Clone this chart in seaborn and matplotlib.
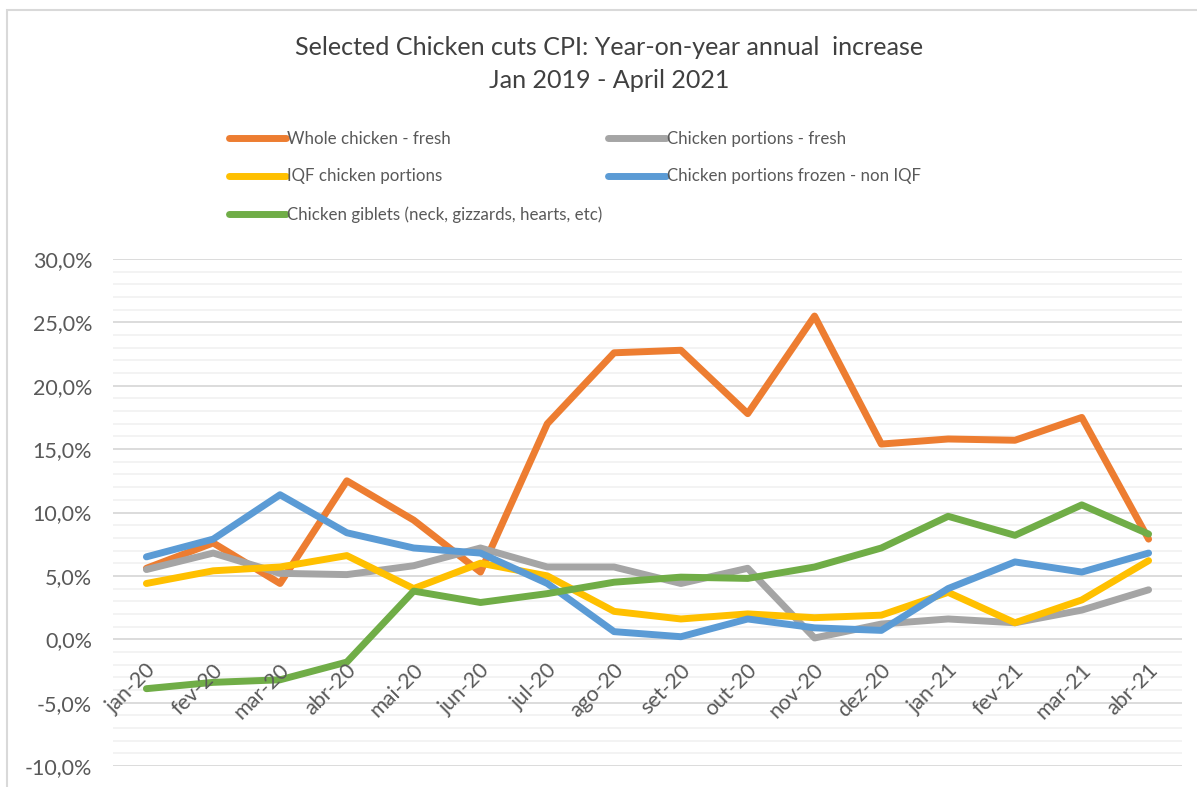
import matplotlib
matplotlib.use("Agg")
import matplotlib.pyplot as plt
import matplotlib.patches as mpatches
from matplotlib.ticker import MultipleLocator, FuncFormatter
from matplotlib.transforms import ScaledTranslation
import pandas as pd
import seaborn as sns

# Monthly year-on-year CPI change (%) per chicken cut
months = ["jan-20", "fev-20", "mar-20", "abr-20", "mai-20", "jun-20",
          "jul-20", "ago-20", "set-20", "out-20", "nov-20", "dez-20",
          "jan-21", "fev-21", "mar-21", "abr-21"]

whole_fresh = [5.6, 7.6, 4.4, 12.5, 9.4, 5.3, 17.0, 22.6,
               22.8, 17.8, 25.5, 15.4, 15.8, 15.7, 17.5, 7.9]
portions_fresh = [5.5, 6.8, 5.2, 5.1, 5.8, 7.2, 5.7, 5.7,
                  4.4, 5.6, 0.1, 1.2, 1.6, 1.3, 2.3, 3.9]
iqf_portions = [4.4, 5.4, 5.7, 6.6, 4.0, 6.0, 5.0, 2.2,
                1.6, 2.0, 1.7, 1.9, 3.7, 1.3, 3.1, 6.2]
frozen_non_iqf = [6.5, 7.9, 11.4, 8.4, 7.2, 6.8, 4.4, 0.6,
                  0.2, 1.6, 0.9, 0.7, 4.0, 6.1, 5.3, 6.8]
giblets = [-3.9, -3.4, -3.2, -1.8, 3.8, 2.9, 3.6, 4.5,
           4.9, 4.8, 5.7, 7.2, 9.7, 8.2, 10.6, 8.3]

series_names = ["Whole chicken - fresh",
                "Chicken portions - fresh",
                "IQF chicken portions",
                "Chicken portions frozen - non IQF",
                "Chicken giblets (neck, gizzards, hearts, etc)"]
series_values = [whole_fresh, portions_fresh, iqf_portions, frozen_non_iqf, giblets]
series_colors = ["#ED7D31", "#A5A5A5", "#FFC000", "#5B9BD5", "#70AD47"]

title_text = "Selected Chicken cuts CPI: Year-on-year annual  increase\nJan 2019 - April 2021"

frames = []
for name, vals in zip(series_names, series_values):
    frames.append(pd.DataFrame({"month": months, "value": vals, "series": name}))
df = pd.concat(frames, ignore_index=True)

sns.set_theme(style="white")
plt.rcParams["font.family"] = ["Lato", "DejaVu Sans"]

W, H = 1197, 787
fig = plt.figure(figsize=(W / 100, H / 100), dpi=100)
fig.patch.set_facecolor("white")

# Chart border (cut off at right and bottom)
fig.add_artist(mpatches.Rectangle((7 / W, -0.05), 1.2, 1 - 10 / H + 0.05,
                                  transform=fig.transFigure, fill=False,
                                  edgecolor="#D9D9D9", linewidth=1.5))

left, right, top, bottom = 113, 1182, 259, 766
ax = fig.add_axes([left / W, (H - bottom) / H, (right - left) / W, (bottom - top) / H])

sns.lineplot(data=df, x="month", y="value", hue="series", hue_order=series_names,
             palette=series_colors, sort=False, linewidth=5,
             ax=ax, legend=True)
for line in ax.get_lines():
    line.set_solid_capstyle("round")
    line.set_solid_joinstyle("round")

ax.set_ylim(-10, 30)
ax.set_xlim(-0.5, len(months) - 0.5)
ax.yaxis.set_major_locator(MultipleLocator(5))
ax.yaxis.set_minor_locator(MultipleLocator(1))
ax.yaxis.set_major_formatter(FuncFormatter(lambda v, p: f"{v:.1f}%".replace(".", ",")))
ax.grid(which="major", axis="y", color="#D9D9D9", linewidth=1.3)
ax.grid(which="minor", axis="y", color="#F2F2F2", linewidth=1.3)
ax.grid(which="major", axis="x", visible=False)
ax.set_axisbelow(True)
# Category labels are drawn above the series lines
ax.xaxis.set_zorder(3)

for s in ax.spines.values():
    s.set_visible(False)
# Category labels sit on the zero line
ax.spines["bottom"].set_position(("data", 0))

ax.tick_params(axis="y", which="both", length=0, pad=15, labelsize=15.5, labelcolor="#595959")
ax.tick_params(axis="x", length=0, pad=15, labelsize=15.5, labelcolor="#595959")
ax.set_xticks(range(len(months)))
ax.set_xticklabels(months, rotation=45, ha="right", va="top", rotation_mode="anchor")
shift = ScaledTranslation(-1 / 100, 0, fig.dpi_scale_trans)
for lab in ax.get_xticklabels():
    lab.set_transform(lab.get_transform() + shift)
ax.set_xlabel("")
ax.set_ylabel("")

handles, labels = ax.get_legend_handles_labels()
ax.get_legend().remove()
order = [0, 2, 4, 1, 3]
leg = fig.legend([handles[i] for i in order], [labels[i] for i in order],
                 ncol=2, loc="upper left", bbox_to_anchor=(222 / W, 1 - 124 / H),
                 frameon=False, fontsize=12.2, labelcolor="#595959",
                 handlelength=3.4, handletextpad=0.05, columnspacing=0.35,
                 labelspacing=1.28, borderaxespad=0)
for h in leg.legend_handles:
    h.set_linewidth(5)
    h.set_solid_capstyle("round")

fig.text(609 / W, 1 - 64 / H, title_text, ha="center", va="center",
         fontsize=18.1, color="#404040", linespacing=1.5)

fig.savefig("out.png", dpi=100, facecolor="white")
